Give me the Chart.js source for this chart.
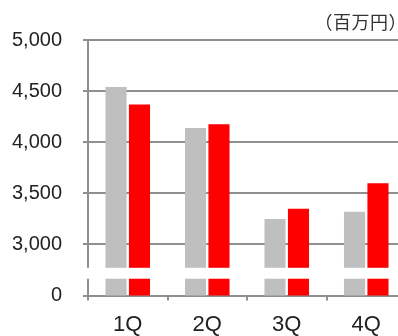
<!DOCTYPE html>
<html>
<head>
<meta charset="utf-8">
<script src="https://cdn.jsdelivr.net/npm/chart.js@4/dist/chart.umd.min.js"></script>
<style>
  html, body { margin: 0; padding: 0; background: #fff; overflow: hidden; }
  #wrap { position: relative; width: 410px; height: 349px; }
</style>
</head>
<body>
<div id="wrap"><canvas id="chart"></canvas></div>
<script>
const quarters = ['1Q', '2Q', '3Q', '4Q'];
const prevYear = [4540, 4140, 3250, 3320];
const thisYear = [4370, 4175, 3350, 3600];
const yTicks = [2500, 3000, 3500, 4000, 4500, 5000];
const unitLabel = '（百万円）';

const ctx = document.querySelector('#chart').getContext('2d');

// white band across bars and axis for the broken scale
const axisBreak = {
    id: 'axisBreak',
    afterDatasetsDraw(chart) {
        const y = chart.scales.y;
        const area = chart.chartArea;
        const top = y.getPixelForValue(2772);
        const bottom = y.getPixelForValue(2665);
        const c = chart.ctx;
        c.save();
        c.fillStyle = '#fff';
        c.fillRect(area.left - 3, top, area.right - area.left + 6, bottom - top);
        c.restore();
    }
};

const unitText = {
    id: 'unitText',
    afterDraw(chart) {
        const c = chart.ctx;
        c.save();
        c.font = '18px "Noto Sans CJK JP"';
        c.letterSpacing = '0.5px';
        c.fillStyle = '#333';
        c.textAlign = 'right';
        c.textBaseline = 'middle';
        c.fillText(unitLabel, 407, 22);
        c.restore();
    }
};

new Chart(ctx, {
    type: 'bar',
    data: {
        labels: quarters,
        datasets: [
            {
                data: prevYear,
                backgroundColor: '#bfbfbf',
                barPercentage: 0.9,
                categoryPercentage: 0.59
            },
            {
                data: thisYear,
                backgroundColor: '#ff0000',
                barPercentage: 0.9,
                categoryPercentage: 0.59
            }
        ]
    },
    options: {
        responsive: true,
        maintainAspectRatio: false,
        animation: false,
        layout: { padding: { top: 40, right: 4, left: 0, bottom: 0 } },
        plugins: {
            legend: { display: false },
            tooltip: { enabled: false }
        },
        scales: {
            x: {
                grid: {
                    drawOnChartArea: false,
                    drawTicks: true,
                    tickLength: 5,
                    color: '#8f8f8f',
                    lineWidth: 2
                },
                border: { display: false },
                ticks: {
                    color: '#222',
                    font: { family: 'Liberation Sans, Arial', size: 22 },
                    padding: 11
                }
            },
            y: {
                min: 2500,
                max: 5000,
                afterBuildTicks(scale) {
                    scale.ticks = yTicks.map(v => ({ value: v }));
                },
                afterFit(scale) {
                    scale.width = 88;
                },
                grid: {
                    color: '#8f8f8f',
                    lineWidth: 2,
                    tickLength: 5
                },
                border: { color: '#8f8f8f', width: 2 },
                ticks: {
                    color: '#222',
                    font: { family: 'Liberation Sans, Arial', size: 20 },
                    padding: 21,
                    callback: v => v === 2500 ? '0' : v.toLocaleString('en-US')
                }
            }
        }
    },
    plugins: [axisBreak, unitText]
});
</script>
</body>
</html>
